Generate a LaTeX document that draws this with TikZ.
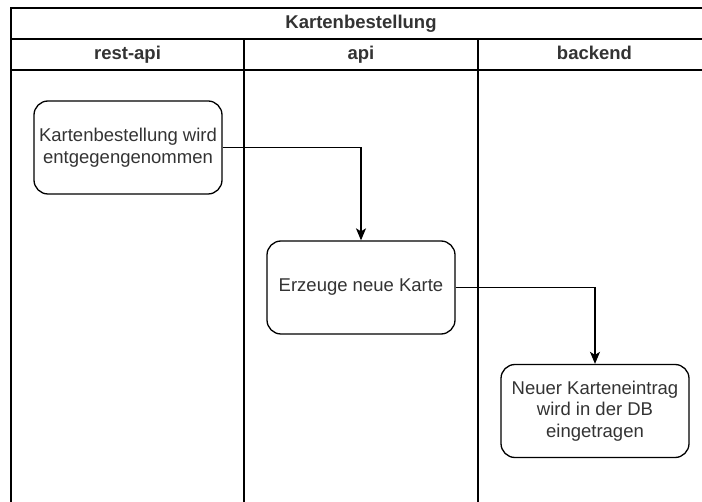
\documentclass[tikz,border=0pt]{standalone}
\usepackage{fontspec}
\setmainfont{Liberation Sans}
\usetikzlibrary{arrows.meta}
\definecolor{ink}{HTML}{333333}
\begin{document}
\begin{tikzpicture}[x=1pt,y=-1pt,
  lane/.style={draw=black, line width=1.4pt},
  stepbox/.style={draw=black, line width=1.3pt, rounded corners=14pt,
    minimum width=188pt, minimum height=93pt, align=center, text=ink,
    font=\fontsize{18.5}{21.5}\selectfont, inner sep=0pt},
  head/.style={text=ink, font=\fontsize{18.5}{21.5}\selectfont\bfseries,
    text height=13.5pt, text depth=3.5pt, inner sep=0pt},
  flow/.style={draw=black, line width=1.3pt,
    -{Stealth[length=12pt,width=10pt,inset=3pt]}}]
\useasboundingbox (0,0) rectangle (702,502);
% swimlane frame (continues past the page edge on the right and bottom)
\begin{scope}
  \clip (0,0) rectangle (702,502);
  \draw[lane] (11,540) -- (11,8) -- (711,8) -- (711,540);
  \draw[lane] (11,39) -- (711,39);
  \draw[lane] (11,70) -- (711,70);
  \draw[lane] (244,39) -- (244,540);
  \draw[lane] (478,39) -- (478,540);
\end{scope}
% pool and lane titles
\node[head] (title) at (361,23.5) {Kartenbestellung};
\node[head] (lrest) at (127.5,55) {rest-api};
\node[head] (lapi)  at (361,55) {api};
\node[head] (lback) at (594.5,55) {backend};
% process steps
\node[stepbox] (order)  at (128,147.5) {Kartenbestellung wird\\entgegengenommen};
\node[stepbox] (create) at (361,287.5) {Erzeuge neue Karte};
\node[stepbox] (store)  at (595,411)   {Neuer Karteneintrag\\wird in der DB\\eingetragen};
% flow
\draw[flow] (order.east) -| (create.north);
\draw[flow] (create.east) -| (store.north);
\end{tikzpicture}
\end{document}
